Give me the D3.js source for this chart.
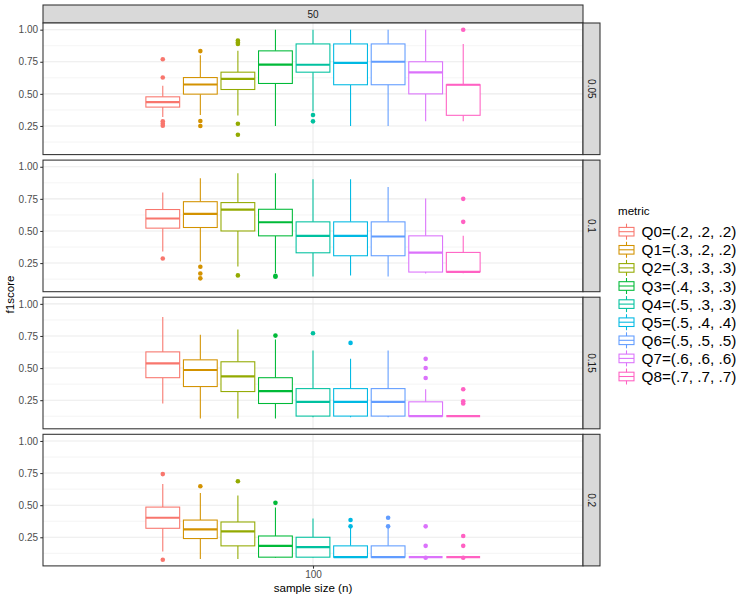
<!DOCTYPE html>
<html>
<head>
<meta charset="utf-8">
<script src="https://cdnjs.cloudflare.com/ajax/libs/d3/7.8.5/d3.min.js"></script>
<style>
    body { margin: 0; background: #fff; }
    text { font-family: "Liberation Sans", Arial, sans-serif; }
</style>
</head>
<body>
<svg id="chart" width="750" height="600"></svg>
<script>
// facet labels and categories
var metrics = ['Q0=(.2, .2, .2)', 'Q1=(.3, .2, .2)', 'Q2=(.3, .3, .3)', 'Q3=(.4, .3, .3)', 'Q4=(.5, .3, .3)',
    'Q5=(.5, .4, .4)', 'Q6=(.5, .5, .5)', 'Q7=(.6, .6, .6)', 'Q8=(.7, .7, .7)'];
var metricColors = ['#F8766D', '#D39200', '#93AA00', '#00BA38', '#00C19F', '#00B9E3', '#619CFF', '#DB72FB', '#FF61C3'];
var noiseLevels = ['0.05', '0.1', '0.15', '0.2'];
var sampleSizes = ['100'];
var topStrip = '50';
var yTicks = [0.25, 0.50, 0.75, 1.00];
var yMinor = [0.125, 0.375, 0.625, 0.875];

// [lower whisker, q1, median, q3, upper whisker] for each metric
var boxes005 = [
    [0.320, 0.397, 0.436, 0.477, 0.563],
    [0.335, 0.498, 0.573, 0.627, 0.800],
    [0.332, 0.534, 0.617, 0.669, 0.835],
    [0.250, 0.581, 0.728, 0.835, 1.000],
    [0.364, 0.669, 0.727, 0.889, 1.000],
    [0.250, 0.571, 0.741, 0.889, 1.000],
    [0.250, 0.571, 0.750, 0.889, 1.000],
    [0.286, 0.500, 0.667, 0.750, 1.000],
    [0.286, 0.333, 0.571, 0.571, 0.889]
];
var outliers005 = [
    [0.770, 0.627, 0.286, 0.268, 0.252],
    [0.833, 0.289, 0.250],
    [0.915, 0.900, 0.889, 0.267, 0.182],
    [],
    [0.335, 0.286],
    [],
    [],
    [],
    [1.000]
];

var boxes010 = [
    [0.340, 0.522, 0.597, 0.667, 0.800],
    [0.262, 0.527, 0.633, 0.728, 0.910],
    [0.224, 0.500, 0.666, 0.721, 0.949],
    [0.172, 0.462, 0.568, 0.669, 0.949],
    [0.146, 0.330, 0.462, 0.571, 0.902],
    [0.154, 0.307, 0.462, 0.571, 0.902],
    [0.146, 0.307, 0.457, 0.571, 0.842],
    [0.169, 0.180, 0.332, 0.462, 0.752],
    [0.170, 0.182, 0.182, 0.333, 0.462]
];
var outliers010 = [
    [0.286],
    [0.221, 0.169, 0.131],
    [0.154],
    [0.150, 0.143],
    [],
    [],
    [],
    [],
    [0.750, 0.571]
];

var boxes015 = [
    [0.224, 0.425, 0.536, 0.626, 0.897],
    [0.108, 0.356, 0.485, 0.564, 0.760],
    [0.108, 0.317, 0.436, 0.549, 0.800],
    [0.108, 0.224, 0.320, 0.425, 0.722],
    [0.116, 0.126, 0.237, 0.340, 0.637],
    [0.116, 0.126, 0.237, 0.340, 0.572],
    [0.116, 0.126, 0.237, 0.340, 0.637],
    [0.126, 0.126, 0.126, 0.237, 0.335],
    [0.126, 0.126, 0.126, 0.126, 0.126]
];
var outliers015 = [
    [],
    [],
    [],
    [0.753],
    [0.771],
    [0.696],
    [],
    [0.572, 0.500, 0.423],
    [0.335, 0.242, 0.224]
];

var boxes020 = [
    [0.139, 0.320, 0.402, 0.485, 0.665],
    [0.080, 0.240, 0.312, 0.384, 0.595],
    [0.080, 0.183, 0.296, 0.369, 0.575],
    [0.088, 0.095, 0.183, 0.260, 0.482],
    [0.090, 0.095, 0.173, 0.250, 0.397],
    [0.095, 0.095, 0.095, 0.183, 0.330],
    [0.095, 0.095, 0.095, 0.183, 0.330],
    [0.095, 0.095, 0.095, 0.095, 0.095],
    [0.095, 0.095, 0.095, 0.095, 0.095]
];
var outliers020 = [
    [0.742, 0.075],
    [0.647],
    [0.686],
    [0.518],
    [],
    [0.384, 0.335],
    [0.402, 0.335],
    [0.335, 0.183, 0.090],
    [0.260, 0.183, 0.090]
];

var panelBoxes = [boxes005, boxes010, boxes015, boxes020];
var panelOutliers = [outliers005, outliers010, outliers015, outliers020];

// layout
var plotLeft = 43, plotRight = 583, plotTop = 23, panelH = 131.6, gap = 5.5;
var stripW = 17, stripTopY = 5;
var smallFont = '10px';

var svg = d3.select('#chart');

var x = d3.scalePoint().domain(sampleSizes).range([plotLeft, plotRight]).padding(0.5);
var inner = d3.scaleBand().domain(metrics).range([-169, 169]).paddingInner(0.1).paddingOuter(0.05);
var color = d3.scaleOrdinal().domain(metrics).range(metricColors);

// top strip
svg.append('rect')
    .attr('x', plotLeft).attr('y', stripTopY)
    .attr('width', plotRight - plotLeft).attr('height', plotTop - stripTopY)
    .attr('fill', '#D9D9D9').attr('stroke', '#333333').attr('stroke-width', 1.07);
svg.append('text')
    .attr('x', (plotLeft + plotRight) / 2).attr('y', (stripTopY + plotTop) / 2)
    .attr('dy', '0.35em').attr('text-anchor', 'middle')
    .attr('font-size', smallFont).attr('fill', '#1A1A1A')
    .text(topStrip);

noiseLevels.forEach(function (level, p) {
    var pTop = plotTop + p * (panelH + gap);
    var y = d3.scaleLinear().domain([0.027, 1.052]).range([pTop + panelH, pTop]);
    var g = svg.append('g');

    g.append('rect')
        .attr('x', plotLeft).attr('y', pTop)
        .attr('width', plotRight - plotLeft).attr('height', panelH)
        .attr('fill', '#FFFFFF');

    // grid
    g.selectAll('.minor').data(yMinor).enter().append('line')
        .attr('x1', plotLeft).attr('x2', plotRight)
        .attr('y1', function (d) { return y(d); })
        .attr('y2', function (d) { return y(d); })
        .attr('stroke', '#EBEBEB').attr('stroke-width', 0.55);
    g.selectAll('.major').data(yTicks).enter().append('line')
        .attr('x1', plotLeft).attr('x2', plotRight)
        .attr('y1', function (d) { return y(d); })
        .attr('y2', function (d) { return y(d); })
        .attr('stroke', '#EBEBEB').attr('stroke-width', 1.07);
    g.selectAll('.vmajor').data(sampleSizes).enter().append('line')
        .attr('x1', function (d) { return x(d); })
        .attr('x2', function (d) { return x(d); })
        .attr('y1', pTop).attr('y2', pTop + panelH)
        .attr('stroke', '#EBEBEB').attr('stroke-width', 1.07);

    var stats = metrics.map(function (m, i) {
        return {metric: m, s: panelBoxes[p][i], out: panelOutliers[p][i]};
    });

    var boxes = g.selectAll('.box').data(stats).enter().append('g')
        .attr('transform', function (d) { return 'translate(' + (x('100') + inner(d.metric)) + ',0)'; });
    var bw = inner.bandwidth();

    boxes.append('line')
        .attr('x1', bw / 2).attr('x2', bw / 2)
        .attr('y1', function (d) { return y(d.s[3]); })
        .attr('y2', function (d) { return y(d.s[4]); })
        .attr('stroke', function (d) { return color(d.metric); })
        .attr('stroke-width', 1.07);
    boxes.append('line')
        .attr('x1', bw / 2).attr('x2', bw / 2)
        .attr('y1', function (d) { return y(d.s[1]); })
        .attr('y2', function (d) { return y(d.s[0]); })
        .attr('stroke', function (d) { return color(d.metric); })
        .attr('stroke-width', 1.07);
    boxes.append('rect')
        .attr('x', 0).attr('width', bw)
        .attr('y', function (d) { return y(d.s[3]); })
        .attr('height', function (d) { return y(d.s[1]) - y(d.s[3]); })
        .attr('fill', '#FFFFFF')
        .attr('stroke', function (d) { return color(d.metric); })
        .attr('stroke-width', 1.07);
    boxes.append('line')
        .attr('x1', 0).attr('x2', bw)
        .attr('y1', function (d) { return y(d.s[2]); })
        .attr('y2', function (d) { return y(d.s[2]); })
        .attr('stroke', function (d) { return color(d.metric); })
        .attr('stroke-width', 2.2);
    boxes.each(function (d) {
        d3.select(this).selectAll('circle').data(d.out).enter().append('circle')
            .attr('cx', bw / 2)
            .attr('cy', function (v) { return y(v); })
            .attr('r', 2.3)
            .attr('fill', color(d.metric));
    });

    // border
    g.append('rect')
        .attr('x', plotLeft).attr('y', pTop)
        .attr('width', plotRight - plotLeft).attr('height', panelH)
        .attr('fill', 'none').attr('stroke', '#333333').attr('stroke-width', 1.07);

    // right strip
    g.append('rect')
        .attr('x', plotRight).attr('y', pTop)
        .attr('width', stripW).attr('height', panelH)
        .attr('fill', '#D9D9D9').attr('stroke', '#333333').attr('stroke-width', 1.07);
    g.append('text')
        .attr('transform', 'translate(' + (plotRight + stripW / 2) + ',' + (pTop + panelH / 2) + ') rotate(90)')
        .attr('dy', '0.35em').attr('text-anchor', 'middle')
        .attr('font-size', smallFont).attr('fill', '#1A1A1A')
        .text(level);

    // y axis
    var yAxis = g.append('g')
        .attr('transform', 'translate(' + plotLeft + ',0)')
        .call(d3.axisLeft(y).tickValues(yTicks).tickFormat(d3.format('.2f')).tickSize(2.75).tickPadding(2.2));
    yAxis.select('.domain').remove();
    yAxis.selectAll('line').attr('stroke', '#333333').attr('stroke-width', 1.07);
    yAxis.selectAll('text').attr('fill', '#4D4D4D').attr('font-size', smallFont)
        .attr('font-family', '"Liberation Sans", Arial, sans-serif');

    if (p === noiseLevels.length - 1) {
        var xAxis = g.append('g')
            .attr('transform', 'translate(0,' + (pTop + panelH) + ')')
            .call(d3.axisBottom(x).tickSize(2.75).tickPadding(2.2));
        xAxis.select('.domain').remove();
        xAxis.selectAll('line').attr('stroke', '#333333').attr('stroke-width', 1.07);
        xAxis.selectAll('text').attr('fill', '#4D4D4D').attr('font-size', smallFont)
            .attr('font-family', '"Liberation Sans", Arial, sans-serif');
    }
});

var plotBottom = plotTop + 4 * panelH + 3 * gap;

// axis titles
svg.append('text')
    .attr('x', (plotLeft + plotRight) / 2).attr('y', 592)
    .attr('text-anchor', 'middle').attr('font-size', '11.6px').attr('fill', '#000')
    .text('sample size (n)');
svg.append('text')
    .attr('transform', 'translate(14,' + ((plotTop + plotBottom) / 2) + ') rotate(-90)')
    .attr('text-anchor', 'middle').attr('font-size', '11.6px').attr('fill', '#000')
    .text('f1score');

// legend
var legend = svg.append('g').attr('transform', 'translate(618,0)');
legend.append('text')
    .attr('x', 0).attr('y', 215)
    .attr('font-size', '11.6px').attr('fill', '#000')
    .text('metric');

var keys = legend.selectAll('.key').data(metrics).enter().append('g')
    .attr('transform', function (d, i) { return 'translate(0,' + (231.7 + i * 18.1) + ')'; });
keys.append('line')
    .attr('x1', 8.5).attr('x2', 8.5).attr('y1', -8).attr('y2', 8)
    .attr('stroke', function (d) { return color(d); }).attr('stroke-width', 1.07);
keys.append('rect')
    .attr('x', 1).attr('y', -4.3).attr('width', 15).attr('height', 8.6)
    .attr('fill', '#FFFFFF')
    .attr('stroke', function (d) { return color(d); }).attr('stroke-width', 1.07);
keys.append('line')
    .attr('x1', 1).attr('x2', 16).attr('y1', 0).attr('y2', 0)
    .attr('stroke', function (d) { return color(d); }).attr('stroke-width', 1.07);
keys.append('text')
    .attr('x', 23.5).attr('dy', '0.36em')
    .attr('font-size', '15.3px').attr('fill', '#000')
    .text(function (d) { return d; });
</script>
</body>
</html>
